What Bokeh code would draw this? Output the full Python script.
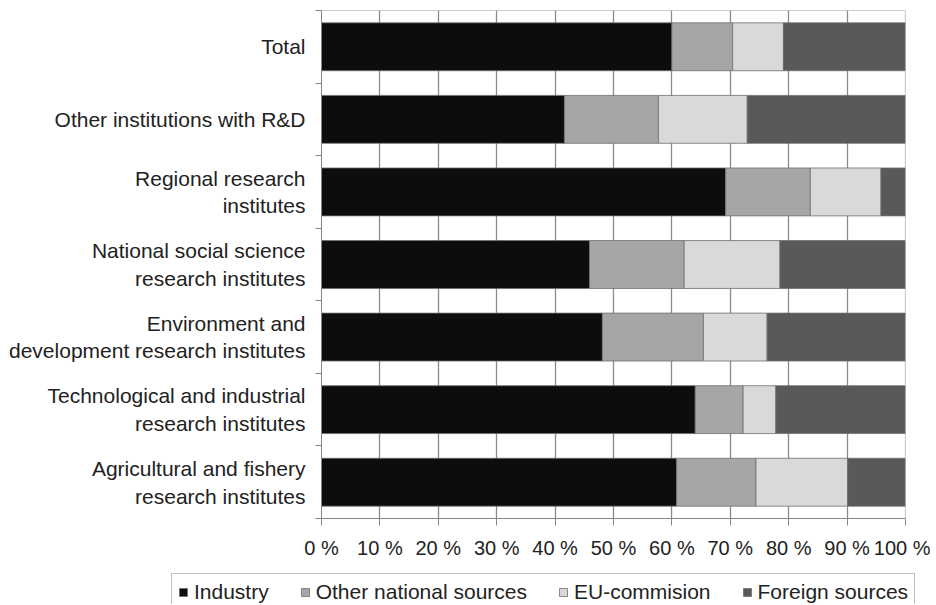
from bokeh.plotting import figure
from bokeh.layouts import column
from bokeh.models import (ColumnDataSource, Range1d, FixedTicker, Legend, LegendItem,
                          PrintfTickFormatter)
from bokeh.embed import file_html
from bokeh.resources import INLINE

categories = ["Total", "Other institutions with R&D", "Regional research institutes",
              "National social science research institutes",
              "Environment and development research institutes",
              "Technological and industrial research institutes",
              "Agricultural and fishery research institutes"]
tick_labels = ["Total", "Other institutions with R&D", "Regional research\ninstitutes",
               "National social science\nresearch institutes",
               "Environment and\ndevelopment research institutes",
               "Technological and industrial\nresearch institutes",
               "Agricultural and fishery\nresearch institutes"]
series = ["Industry", "Other national sources", "EU-commision", "Foreign sources"]
industry = [60.0, 41.6, 69.2, 45.9, 48.1, 64.0, 60.8]
other_national = [10.4, 16.1, 14.5, 16.2, 17.3, 8.2, 13.6]
eu_commision = [8.7, 15.2, 12.1, 16.4, 10.9, 5.6, 15.7]
foreign = [20.9, 27.1, 4.2, 21.5, 23.7, 22.2, 9.9]
x_ticks = [0, 10, 20, 30, 40, 50, 60, 70, 80, 90, 100]

colors = ["#0d0d0d", "#a6a6a6", "#d9d9d9", "#595959"]
FONT = "Liberation Sans"
TXT = "#222222"
GRID = "#8a8a8a"
AX = "#868686"
BAR_LINE = "#6e6e6e"

n = len(categories)
ypos = [n - i - 0.5 for i in range(n)]
keys = ["industry", "other", "eu", "foreign"]
source = ColumnDataSource(dict(y=ypos, cat=categories, industry=industry,
                               other=other_national, eu=eu_commision, foreign=foreign))

p = figure(frame_width=584, frame_height=508, output_backend="svg", toolbar_location=None,
           x_range=Range1d(0, 100), y_range=Range1d(0, n),
           min_border_left=321, min_border_top=10, min_border_right=25, min_border_bottom=47)

rs = p.hbar_stack(keys, y="y", height=0.66, color=colors, line_color=BAR_LINE,
                  line_width=0.8, source=source)

# x axis
p.xaxis.ticker = FixedTicker(ticks=x_ticks)
p.xaxis.formatter = PrintfTickFormatter(format="%d %%")
p.xaxis.major_tick_in = 0
p.xaxis.major_tick_out = 7
p.xaxis.major_tick_line_color = AX
p.xaxis.minor_tick_line_color = None
p.xaxis.major_label_standoff = 11
p.xaxis.major_label_text_font_size = "20px"
# y axis: labels at band centres, ticks at band boundaries
p.yaxis.ticker = FixedTicker(ticks=ypos, minor_ticks=list(range(n + 1)))
p.yaxis.major_label_overrides = {y: lab for y, lab in zip(ypos, tick_labels)}
p.yaxis.major_tick_line_color = None
p.yaxis.minor_tick_in = 0
p.yaxis.minor_tick_out = 6
p.yaxis.minor_tick_line_color = AX
p.yaxis.major_label_standoff = 10
p.yaxis.major_label_text_font_size = "21px"
for ax in (p.xaxis, p.yaxis):
    ax.axis_line_color = AX
    ax.major_label_text_font = FONT
    ax.major_label_text_color = TXT

p.xgrid.ticker = FixedTicker(ticks=x_ticks)
p.xgrid.grid_line_color = GRID
p.xgrid.grid_line_width = 1.3
p.ygrid.grid_line_color = None
p.outline_line_color = None
p.background_fill_color = "white"
p.border_fill_color = "white"
# plot-area outline drawn as top/right edges only (left/bottom are the axes)
p.segment(x0=[0, 100], y0=[n, 0], x1=[100, 100], y1=[n, n], line_color="#9a9a9a",
          line_width=1.2)

# legend strip below the chart (its own small figure; the bars sit outside its ranges)
lg = figure(width=930, height=39, output_backend="svg", toolbar_location=None,
            x_range=Range1d(0, 100), y_range=Range1d(100, 101),
            x_axis_location=None, y_axis_location=None, frame_align=False,
            min_border_left=0, min_border_right=0, min_border_top=0, min_border_bottom=0)
lg.grid.visible = False
lg.outline_line_color = None
lg.outline_line_alpha = 0
lg.background_fill_color = "white"
lg.border_fill_color = "white"
lg_rs = lg.hbar_stack(keys, y="y", height=0.66, color=colors, line_color=BAR_LINE,
                      line_width=0.8, source=source)
legend = Legend(items=[LegendItem(label=s, renderers=[r]) for s, r in zip(series, lg_rs)],
                orientation="horizontal", location=(171, -7),
                label_text_font=FONT, label_text_font_size="21px", label_text_color=TXT,
                glyph_width=10, glyph_height=10, label_standoff=6, spacing=31,
                padding=6, margin=0, border_line_color="#808080", border_line_width=1,
                background_fill_color="white", background_fill_alpha=1.0)
lg.add_layout(legend, "center")

open("out.html", "w").write(file_html(column(p, lg, spacing=0), INLINE))
